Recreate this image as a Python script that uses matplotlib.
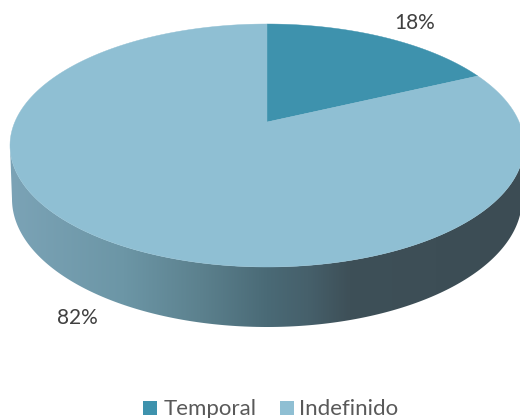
import numpy as np
import matplotlib
matplotlib.use('Agg')
import matplotlib.pyplot as plt
from matplotlib.colors import LinearSegmentedColormap
from matplotlib.patches import Polygon, Rectangle

categories = ['Temporal', 'Indefinido']
values = [18, 82]
labels = ['18%', '82%']
colors = ['#3E92AD', '#8FBFD3']

plt.rcParams['font.family'] = ['Lato', 'DejaVu Sans']

# pie geometry in pixels
apex_x, apex_y = 267, 122
up, down = 98, 145    # top face, apex to far and near edge
half_w = 257
bot_cy, bot_rx, bot_ry = 199, 255, 128    # lower rim of the side wall

k = (down - up) / (down + up)
b = up * (1 + k)
a = half_w * np.sqrt(1 - k ** 2)


# angle clockwise from the top -> pixel on the tilted top face
def rim(theta):
    x, y = np.sin(theta), np.cos(theta)
    d = 1 + k * y
    return apex_x + a * x / d, apex_y - b * y / d


fig = plt.figure(figsize=(5.2, 4.18), dpi=100)
ax = fig.add_axes([0, 0, 1, 1])

# side wall: near half of the top rim, then the lower rim back
cy = (apex_y - up + apex_y + down) / 2
ry = (up + down) / 2
t = np.linspace(0, np.pi, 200)
top_x = apex_x - half_w * np.cos(t)
top_y = cy + ry * np.sin(t)
low_x = apex_x + bot_rx * np.cos(t)
low_y = bot_cy + bot_ry * np.sin(t)
wall = Polygon(np.column_stack([np.r_[top_x, low_x], np.r_[top_y, low_y]]),
               closed=True, facecolor='none', edgecolor='none')
ax.add_patch(wall)
shade = LinearSegmentedColormap.from_list('wall', [
    (0.0, '#7BA3B6'), (0.22, '#6C96A6'), (0.37, '#5C818E'),
    (0.5, '#4A6A76'), (0.58, '#46606B'), (0.66, '#3E5058'), (1.0, '#3C4C54')])
img = ax.imshow(np.linspace(0, 1, 256).reshape(1, -1), cmap=shade, aspect='auto',
                extent=(apex_x - half_w, apex_x + half_w, 340, 130), zorder=1)
img.set_clip_path(wall)
ax.set_xlim(0, 520)
ax.set_ylim(418, 0)
ax.axis('off')

# top face, one wedge per value
start = 0.0
for val, col in zip(values, colors):
    sweep = val / sum(values) * 2 * np.pi
    th = np.linspace(start, start + sweep, 200)
    xs, ys = rim(th)
    ax.add_patch(Polygon(np.column_stack([np.r_[apex_x, xs], np.r_[apex_y, ys]]),
                         closed=True, facecolor=col, edgecolor=col, linewidth=0.3, zorder=2))
    start += sweep

ax.text(414.5, 23, labels[0], ha='center', va='center', fontsize=15, color='#404040', zorder=3)
ax.text(77, 318, labels[1], ha='center', va='center', fontsize=15, color='#404040', zorder=3)

# legend
for name, col, box_x, txt_x in zip(categories, colors, [143, 280], [164, 299]):
    ax.add_patch(Rectangle((box_x, 401), 14, 14, facecolor=col, edgecolor='none', zorder=3))
    ax.text(txt_x, 415, name, ha='left', va='baseline', fontsize=16, color='#595959', zorder=3)

fig.savefig('out.png', dpi=100)
